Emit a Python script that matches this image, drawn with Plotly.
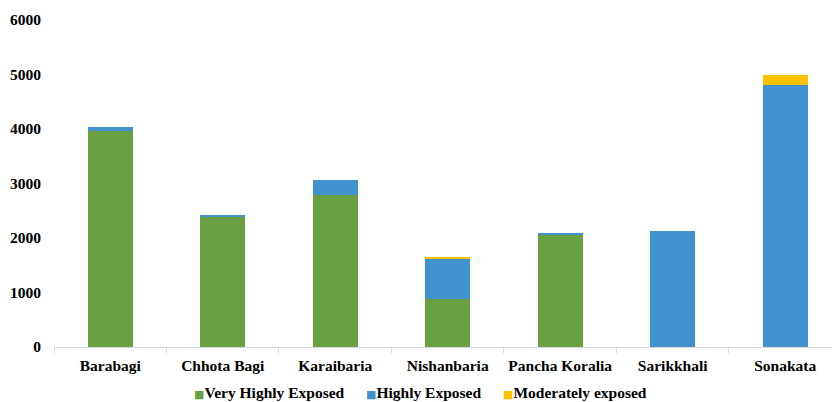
import plotly.graph_objects as go

categories = ["Barabagi", "Chhota Bagi", "Karaibaria", "Nishanbaria", "Pancha Koralia", "Sarikkhali", "Sonakata"]
very_high = [3965, 2400, 2790, 885, 2050, 0, 6]
high = [80, 15, 280, 740, 50, 2130, 4800]
moderate = [0, 0, 0, 20, 0, 0, 180]
y_ticks = [0, 1000, 2000, 3000, 4000, 5000, 6000]
series_names = ["Very Highly Exposed", "Highly Exposed", "Moderately exposed"]
series_colors = ["#68A042", "#4291CF", "#FFC000"]

FONT = "Liberation Serif"
FS = 15.5
W, H = 832, 402
ML, MR, MT, MB = 54, 0, 20, 54.5

fig = go.Figure()
for name, vals, col in zip(series_names, [very_high, high, moderate], series_colors):
    fig.add_trace(go.Bar(x=categories, y=vals, name=name, marker_color=col,
                         marker_line_width=0, width=0.4, showlegend=False))

# legend built as text entries, positioned in pixels
legend_left_px = [192, 364, 501]
for name, col, px in zip(series_names, series_colors, legend_left_px):
    fig.add_annotation(
        text=f"<span style='color:{col};font-size:11px;font-family:DejaVu Sans'>■</span><b>{name}</b>",
        xref="paper", yref="paper",
        x=(px - ML) / (W - ML - MR), y=-(393 - (H - MB)) / (H - MT - MB),
        xanchor="left", yanchor="middle", showarrow=False,
        font=dict(family=FONT, size=FS, color="#000000"),
    )

fig.update_layout(
    barmode="stack",
    width=W, height=H,
    margin=dict(l=ML, r=MR, t=MT, b=MB, autoexpand=False),
    plot_bgcolor="white", paper_bgcolor="white",
    font=dict(family=FONT, size=FS, color="#000000"),
    showlegend=False,
)
fig.update_xaxes(range=[-0.5, 6.416], showline=True, linecolor="#d9d9d9", linewidth=1,
                 ticks="outside", tickson="boundaries", ticklen=5, tickcolor="#d9d9d9",
                 tickvals=categories, ticktext=[f"<b>{c}</b>" for c in categories],
                 ticklabelstandoff=4, tickangle=0,
                 tickfont=dict(family=FONT, size=FS, color="#000000"),
                 showgrid=False)
fig.update_yaxes(range=[0, 6000], tickvals=y_ticks, ticktext=[f"<b>{v}</b>" for v in y_ticks],
                 showgrid=False, zeroline=False,
                 showline=False, ticks="", ticklabelstandoff=12,
                 tickfont=dict(family=FONT, size=FS, color="#000000"))

fig.write_html("out.html")
